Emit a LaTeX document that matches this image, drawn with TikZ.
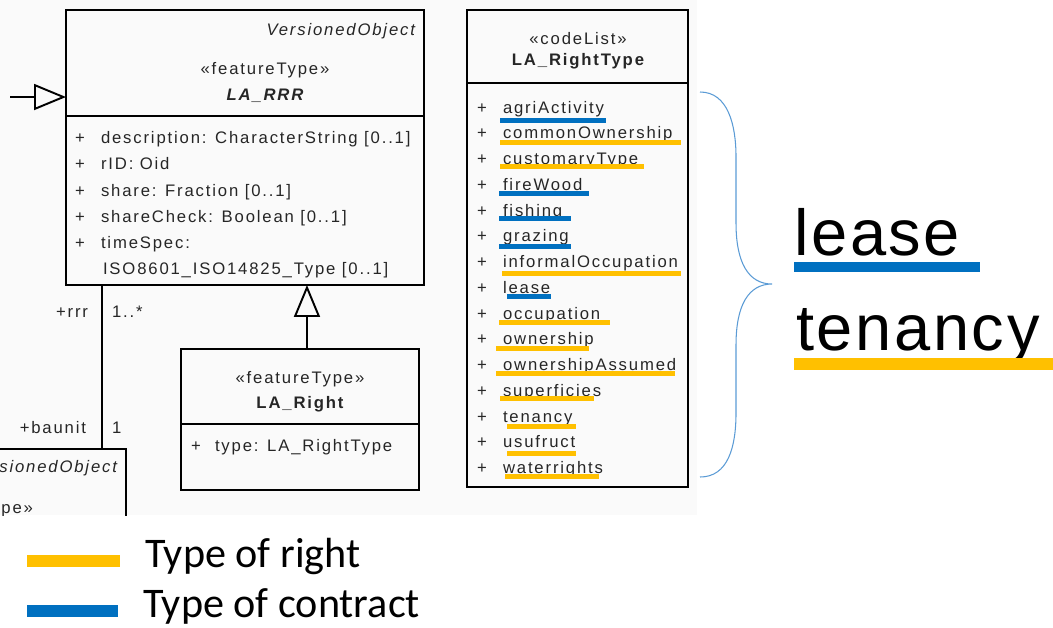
\documentclass[tikz,border=0pt]{standalone}
\usepackage{fontspec}
\setmainfont{Liberation Sans}
\newfontfamily\umlfont[LetterSpace=11]{Liberation Sans}
\newfontfamily\bigfont[LetterSpace=4]{Liberation Sans}
\newfontfamily\legendfont{Carlito}
\usetikzlibrary{arrows.meta}

\begin{document}
\begin{tikzpicture}[x=0.02cm,y=-0.02cm,
  classbox/.style={draw=black,line width=1.1pt,inner sep=0pt,outer sep=0pt,anchor=north west},
  umltext/.style={font=\umlfont\fontsize{9.5}{11}\selectfont,text=black!85,inner sep=0pt,outer sep=0pt},
  attr/.style={umltext,anchor=base west},
  plusmark/.style={umltext,anchor=base},
  divider/.style={draw=black,line width=1.1pt},
  gen/.style={draw=black,line width=1.1pt,-{Triangle[open,length=0.64cm,width=0.52cm]}},
  assoc/.style={draw=black,line width=1.1pt},
  bigword/.style={font=\bigfont\fontsize{37}{40}\selectfont,inner sep=0pt,anchor=base west},
  legendtext/.style={font=\legendfont\fontsize{24}{28}\selectfont,inner sep=0pt,anchor=base west}]
\definecolor{cbg}{rgb}{0.98,0.98,0.98}
\definecolor{cright}{rgb}{1.0,0.753,0.0}
\definecolor{ccontract}{rgb}{0.0,0.439,0.753}
\definecolor{cbrace}{rgb}{0.357,0.608,0.835}
\useasboundingbox (0,0) rectangle (1053,627);
\fill[cbg] (0,0) rectangle (697,515);
%
\begin{scope}
\clip (0,0) rectangle (697,515);
\node[classbox,anchor=north east,minimum width=4cm,minimum height=3cm] (baunit) at (126,449) {};
\node[umltext,anchor=base east] (baunitver) at (117,472) {\itshape VersionedObject};
\node[umltext,anchor=base east] (baunitst) at (33,513) {«featureType»};
\end{scope}
%
\node[classbox,minimum width=7.16cm,minimum height=5.5cm] (rrr) at (66,10) {};
\draw[divider] ([yshift=-2.12cm]rrr.north west) -- ([yshift=-2.12cm]rrr.north east);
\node[umltext,anchor=base east] (rrrver) at (415,35) {\itshape VersionedObject};
\node[umltext,anchor=base] (rrrst) at (265,74) {«featureType»};
\node[umltext,anchor=base] (rrrname) at (265,100) {\bfseries\itshape LA\_RRR};
\node[plusmark] (rrrp1) at (80,143) {+};
\node[plusmark] (rrrp2) at (80,169) {+};
\node[plusmark] (rrrp3) at (80,196) {+};
\node[plusmark] (rrrp4) at (80,222) {+};
\node[plusmark] (rrrp5) at (80,248) {+};
\node[attr] (rrra1) at (101,143) {description: CharacterString [0..1]};
\node[attr] (rrra2) at (101,169) {rID: Oid};
\node[attr] (rrra3) at (101,196) {share: Fraction [0..1]};
\node[attr] (rrra4) at (101,222) {shareCheck: Boolean [0..1]};
\node[attr] (rrra5) at (101,248) {timeSpec:};
\node[attr] (rrra6) at (103,274) {ISO8601\_ISO14825\_Type [0..1]};
%
\node[classbox,minimum width=4.76cm,minimum height=2.82cm] (right) at (181,349) {};
\draw[divider] ([yshift=-1.5cm]right.north west) -- ([yshift=-1.5cm]right.north east);
\node[umltext,anchor=base] (rightst) at (300,383) {«featureType»};
\node[umltext,anchor=base] (rightname) at (300,408) {\bfseries LA\_Right};
\node[plusmark] (rightp1) at (196,451) {+};
\node[attr] (righta1) at (215,451) {type: LA\_RightType};
%
\node[classbox,minimum width=4.42cm,minimum height=9.54cm] (rtype) at (467,10) {};
\draw[divider] ([yshift=-1.46cm]rtype.north west) -- ([yshift=-1.46cm]rtype.north east);
\node[umltext,anchor=base] (rtypest) at (578,44) {«codeList»};
\node[umltext,anchor=base] (rtypename) at (578,65) {\bfseries LA\_RightType};
\node[plusmark] (p1) at (482,113) {+};
\node[plusmark] (p2) at (482,138.7) {+};
\node[plusmark] (p3) at (482,164.5) {+};
\node[plusmark] (p4) at (482,190.2) {+};
\node[plusmark] (p5) at (482,216) {+};
\node[plusmark] (p6) at (482,241.7) {+};
\node[plusmark] (p7) at (482,267.5) {+};
\node[plusmark] (p8) at (482,293.2) {+};
\node[plusmark] (p9) at (482,319) {+};
\node[plusmark] (p10) at (482,344.7) {+};
\node[plusmark] (p11) at (482,370.5) {+};
\node[plusmark] (p12) at (482,396.2) {+};
\node[plusmark] (p13) at (482,422) {+};
\node[plusmark] (p14) at (482,447.7) {+};
\node[plusmark] (p15) at (482,473.5) {+};
\node[attr] (e1) at (503,113) {agriActivity};
\node[attr] (e2) at (503,138.7) {commonOwnership};
\node[attr] (e3) at (503,164.5) {customaryType};
\node[attr] (e4) at (503,190.2) {fireWood};
\node[attr] (e5) at (503,216) {fishing};
\node[attr] (e6) at (503,241.7) {grazing};
\node[attr] (e7) at (503,267.5) {informalOccupation};
\node[attr] (e8) at (503,293.2) {lease};
\node[attr] (e9) at (503,319) {occupation};
\node[attr] (e10) at (503,344.7) {ownership};
\node[attr] (e11) at (503,370.5) {ownershipAssumed};
\node[attr] (e12) at (503,396.2) {superficies};
\node[attr] (e13) at (503,422) {tenancy};
\node[attr] (e14) at (503,447.7) {usufruct};
\node[attr] (e15) at (503,473.5) {waterrights};
%
\fill[ccontract] (500,117.5) rectangle (606,122.5);
\fill[cright] (500,139.5) rectangle (681,144.5);
\fill[cright] (500,163.5) rectangle (644,168.5);
\fill[ccontract] (499,190.5) rectangle (589,195.5);
\fill[ccontract] (499,215.5) rectangle (571,220.5);
\fill[ccontract] (499,243.5) rectangle (571,248.5);
\fill[cright] (502,270.5) rectangle (681,275.5);
\fill[ccontract] (507,293.5) rectangle (551,298.5);
\fill[cright] (499,319.5) rectangle (610,324.5);
\fill[cright] (496,345.5) rectangle (589,350.5);
\fill[cright] (496,370.5) rectangle (675,375.5);
\fill[cright] (500,395.5) rectangle (594,400.5);
\fill[cright] (507,423.5) rectangle (576,428.5);
\fill[cright] (507,450.5) rectangle (576,455.5);
\fill[cright] (505,473.5) rectangle (599,478.5);
%
\coordinate (genfoot) at (10,97);
\draw[gen] (genfoot) -- (genfoot -| rrr.west);
\coordinate (genright) at ([xshift=0.14cm]right.north);
\draw[gen] (genright) -- (genright |- rrr.south);
\coordinate (assocfoot) at ([xshift=0.72cm]rrr.south west);
\draw[assoc] (assocfoot) -- (assocfoot |- baunit.north);
\node[umltext,anchor=base east] (rolerrr) at (88,317) {+rrr};
\node[umltext,anchor=base west] (multrrr) at (112,317) {1..*};
\node[umltext,anchor=base east] (rolebaunit) at (86,433) {+baunit};
\node[umltext,anchor=base west] (multbaunit) at (112,433) {1};
%
\draw[cbrace,line width=0.6pt] (700,92) .. controls (728,92) and (736,125) .. (736,157) -- (736,223) .. controls (736,262) and (748,284) .. (772,284) .. controls (748,284) and (736,306) .. (736,345) -- (736,413) .. controls (736,447) and (728,477) .. (700,477);
%
\node[bigword] (biglease) at (794,255) {lease};
\node[bigword] (bigtenancy) at (796,350) {tenancy};
\fill[ccontract] (794,262) rectangle (980,272);
\fill[cright] (794,358) rectangle (1053,370);
%
\fill[cright] (27,555) rectangle (120,567);
\fill[ccontract] (27,605) rectangle (118,617);
\node[legendtext] (lgright) at (145,567) {Type of right};
\node[legendtext] (lgcontract) at (143,617) {Type of contract};
%
\end{tikzpicture}
\end{document}
